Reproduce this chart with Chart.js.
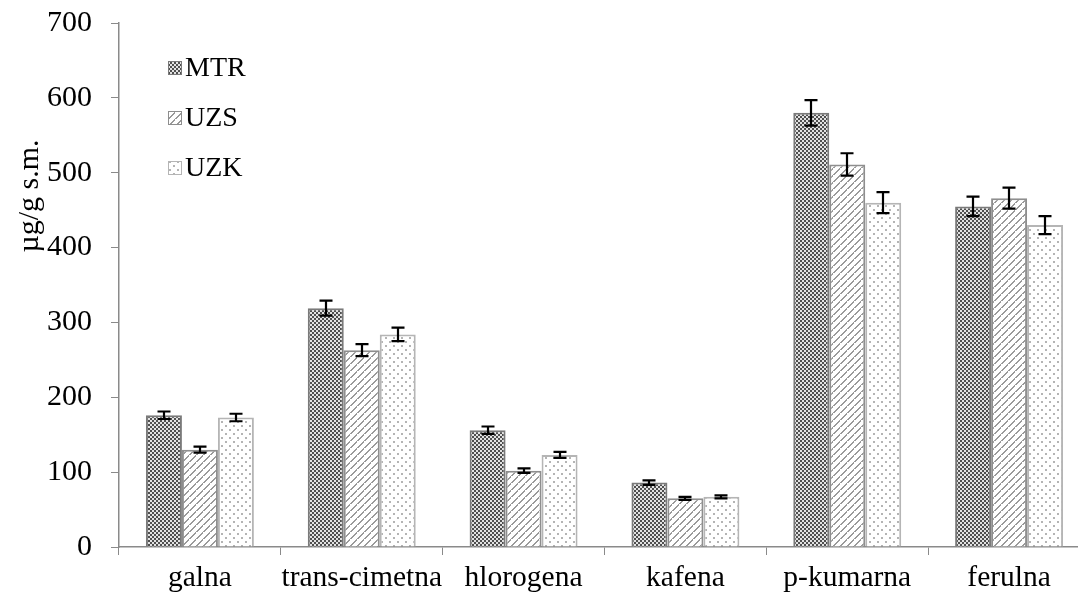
<!DOCTYPE html>
<html>
<head>
<meta charset="utf-8">
<script src="https://cdn.jsdelivr.net/npm/chart.js@4.4.1/dist/chart.umd.min.js"></script>
<style>
  html, body { margin: 0; padding: 0; background: #fff; overflow: hidden; }
  #wrap { width: 1100px; height: 596px; }
</style>
</head>
<body>
<div id="wrap"><canvas id="kiseline" width="1100" height="596"></canvas></div>
<script>
const categories = ['galna', 'trans-cimetna', 'hlorogena', 'kafena', 'p-kumarna', 'ferulna']

const mtr = [176, 319, 156, 86, 580, 455]
const uzs = [130, 263, 102, 65, 511, 466]
const uzk = [173, 284, 123, 67, 460, 430]

const mtrErr = [5, 10, 5, 3, 17, 13]
const uzsErr = [4, 8, 3, 2, 15, 14]
const uzkErr = [5, 9, 4, 2, 14, 12]

const yTicks = [0, 100, 200, 300, 400, 500, 600, 700]

const FONT = 'Liberation Serif'

// pattern fills like in the excel chart
function makePattern(kind) {
  const c = document.createElement('canvas')
  const g = c.getContext('2d')
  if (kind === 'check') {
    c.width = 4; c.height = 4
    g.fillStyle = '#e2e2e2'
    g.fillRect(0, 0, 4, 4)
    g.fillStyle = '#4f4f4f'
    g.fillRect(0, 0, 2, 2)
    g.fillRect(2, 2, 2, 2)
  } else if (kind === 'diag') {
    c.width = 7; c.height = 7
    g.fillStyle = '#ffffff'
    g.fillRect(0, 0, 7, 7)
    g.fillStyle = '#9a9a9a'
    for (let i = 0; i < 7; i++) {
      g.fillRect(6 - i, i, 2, 1)
    }
    g.fillRect(0, 6, 1, 1)
  } else {
    c.width = 8; c.height = 8
    g.fillStyle = '#ffffff'
    g.fillRect(0, 0, 8, 8)
    g.fillStyle = '#b4b4b4'
    g.fillRect(1, 1, 2, 2)
    g.fillRect(5, 5, 2, 2)
  }
  return g.createPattern(c, 'repeat')
}

const errorBars = {
  id: 'errorBars',
  afterDatasetsDraw(chart) {
    const ctx = chart.ctx
    const y = chart.scales.y
    ctx.save()
    ctx.strokeStyle = '#000'
    ctx.lineWidth = 2.2
    chart.data.datasets.forEach((ds, di) => {
      const meta = chart.getDatasetMeta(di)
      meta.data.forEach((bar, i) => {
        const v = ds.data[i]
        const e = ds.errors[i]
        const top = y.getPixelForValue(v + e)
        const bot = y.getPixelForValue(v - e)
        const x = Math.round(bar.x)
        ctx.beginPath()
        ctx.moveTo(x, top); ctx.lineTo(x, bot)
        ctx.moveTo(x - 6.5, top); ctx.lineTo(x + 6.5, top)
        ctx.moveTo(x - 6.5, bot); ctx.lineTo(x + 6.5, bot)
        ctx.stroke()
      })
    })
    ctx.restore()
  }
}

const extras = {
  id: 'extras',
  afterDraw(chart) {
    const ctx = chart.ctx
    ctx.save()
    // legend inside plot, top left
    ctx.font = '28px "' + FONT + '"'
    ctx.textBaseline = 'middle'
    ctx.textAlign = 'left'
    chart.data.datasets.forEach((ds, i) => {
      const cy = 68 + i * 50
      ctx.fillStyle = ds.backgroundColor
      ctx.fillRect(168, cy - 7, 14, 14)
      ctx.strokeStyle = ds.borderColor
      ctx.lineWidth = 1
      ctx.strokeRect(168.5, cy - 6.5, 13, 13)
      ctx.fillStyle = '#000'
      ctx.fillText(ds.label, 185, cy + 1)
    })
    // y title
    ctx.translate(30, 196)
    ctx.rotate(-Math.PI / 2)
    ctx.textAlign = 'center'
    ctx.font = '30px "' + FONT + '"'
    ctx.fillText('µg/g s.m.', 0, 0)
    ctx.restore()
  }
}

const ctx = document.getElementById('kiseline')

const chart = new Chart(ctx, {
  type: 'bar',
  data: {
    labels: categories,
    datasets: [
      { label: 'MTR', data: mtr, errors: mtrErr, backgroundColor: makePattern('check'), borderColor: '#7a7a7a', borderWidth: 2 },
      { label: 'UZS', data: uzs, errors: uzsErr, backgroundColor: makePattern('diag'), borderColor: '#8e8e8e', borderWidth: 2 },
      { label: 'UZK', data: uzk, errors: uzkErr, backgroundColor: makePattern('dots'), borderColor: '#b5b5b5', borderWidth: 2 }
    ]
  },
  options: {
    responsive: false,
    animation: false,
    devicePixelRatio: 1,
    categoryPercentage: 0.667,
    barPercentage: 1.0,
    layout: { padding: { top: 23, right: 10, left: 0, bottom: 0 } },
    plugins: {
      legend: { display: false },
      tooltip: { enabled: false }
    },
    scales: {
      x: {
        grid: { display: true, drawOnChartArea: false, drawTicks: true, tickLength: 8, color: '#8a8a8a', offset: true },
        border: { color: '#8a8a8a', width: 1.5 },
        ticks: { color: '#000', font: { family: FONT, size: 29.5 }, padding: 6, maxRotation: 0, autoSkip: false },
        afterFit(scale) { scale.height = 49; scale.paddingLeft = 0; scale.paddingRight = 0 }
      },
      y: {
        min: 0,
        max: 700,
        afterBuildTicks(scale) { scale.ticks = yTicks.map(v => ({ value: v })) },
        grid: { display: true, drawOnChartArea: false, drawTicks: true, tickLength: 8, color: '#8a8a8a' },
        border: { color: '#8a8a8a', width: 1.5 },
        ticks: { color: '#000', font: { family: FONT, size: 30 }, padding: 19 },
        afterFit(scale) { scale.width = 119; scale.paddingTop = 0; scale.paddingBottom = 0 }
      }
    }
  },
  plugins: [errorBars, extras]
})
</script>
</body>
</html>
